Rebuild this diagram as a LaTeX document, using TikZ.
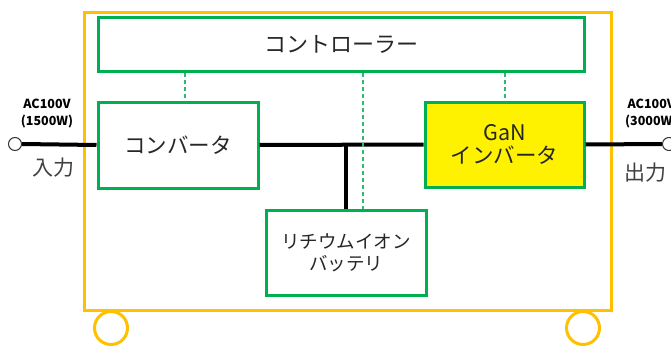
\documentclass[tikz,border=0pt]{standalone}
\usepackage{fontspec}
\setmainfont{Noto Sans CJK JP}
\newfontfamily\jpfont{Noto Sans CJK JP}
\newfontfamily\jplight{Noto Sans CJK JP Light}
\definecolor{frameor}{HTML}{FFC000}
\definecolor{boxgreen}{HTML}{00B050}
\definecolor{dashgreen}{HTML}{2EB872}
\begin{document}
\begin{tikzpicture}[x=1pt,y=-1pt,
  unit/.style={draw=boxgreen,line width=3pt,fill=white,inner sep=0pt,align=center,text=black!85,font=\jpfont\fontsize{21.5}{27}\selectfont},
  frame/.style={draw=frameor,line width=3pt},
  wire/.style={line width=4pt,black},
  ctrl/.style={dashgreen,line width=1.2pt,dash pattern=on 4pt off 3pt},
  lab/.style={font=\jpfont\bfseries\fontsize{12.5}{17}\selectfont,align=center,inner sep=0pt},
  io/.style={font=\jpfont\fontsize{21}{25}\selectfont,text=black!75,inner sep=0pt},
  term/.style={circle,draw=black!80,line width=1pt,fill=white,minimum size=13pt,inner sep=0pt}]
\useasboundingbox (0,0) rectangle (671,345);
\clip (0,0) rectangle (671,345);
% outer frame and wheels
\draw[frame] (84,13) rectangle (611,310);
\node[frame,circle,minimum size=33pt,inner sep=0pt,fill=white] (w1) at (111,328) {};
\node[frame,circle,minimum size=33pt,inner sep=0pt,fill=white] (w2) at (583,328) {};
% blocks
\node[unit,minimum width=486pt,minimum height=53pt,font=\jpfont\fontsize{22}{27}\selectfont] (ctl) at (341,44.5) {コントローラー};
\node[unit,minimum width=160pt,minimum height=86pt] (conv) at (178,145) {コンバータ};
\node[unit,fill=yellow,minimum width=159pt,minimum height=85pt] (inv) at (504.5,144.5) {GaN\\[-4pt]インバータ};
\node[unit,minimum width=160pt,minimum height=85pt,font=\jpfont\fontsize{18.5}{23}\selectfont] (bat) at (346,252.5) {リチウムイオン\\[-1pt]バッテリ};
% terminals
\node[term] (tin) at (15,144) {};
\node[term] (tout) at (669,144) {};
\coordinate (tee) at (346,144);
% wires
\draw[wire] (tin.east) -- (conv.west);
\draw[wire] (conv.east) -- (inv.west);
\draw[wire] (inv.east) -- (tout.west);
\draw[wire] (tee) -- (bat.north -| tee);
% control lines
\draw[ctrl] (ctl.south -| 185,0) -- (conv.north -| 185,0);
\draw[ctrl] (ctl.south -| 363,0) -- (bat.north -| 363,0);
\draw[ctrl] (ctl.south -| 505,0) -- (inv.north -| 505,0);
% labels
\node[lab] (inlab) at (47,114) {AC100V\\(1500W)};
\node[lab,anchor=west] (outlab) at (625,114) {AC100V\\(3000W)};
\node[io] (inio) at (53,168) {入力};
\node[io,anchor=west] (outio) at (624,173) {出力};
\end{tikzpicture}
\end{document}
